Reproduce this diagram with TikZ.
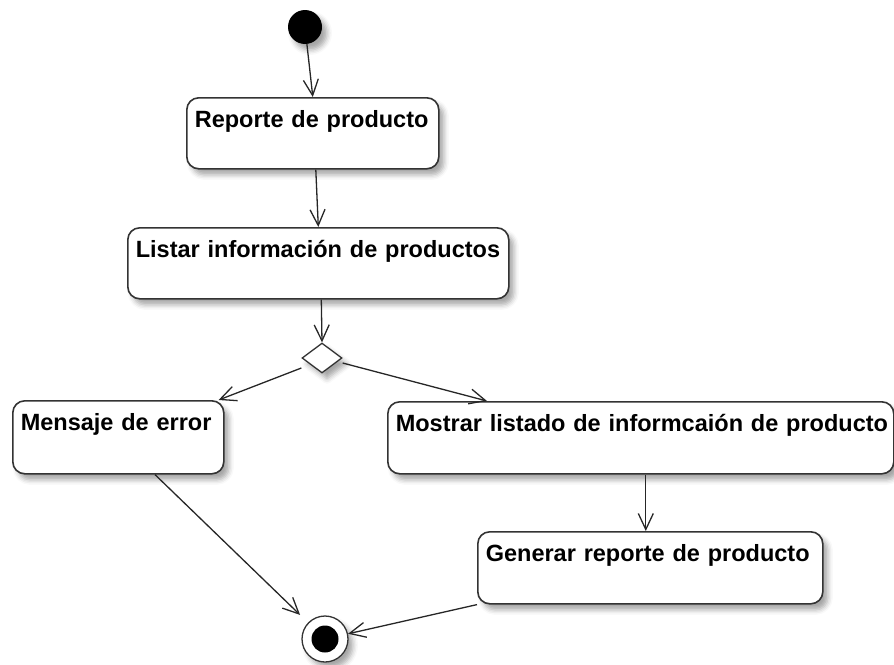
\documentclass[tikz,border=0pt]{standalone}
\usepackage{fontspec}
\setmainfont{Liberation Sans}
\usepackage{tikz}
\usetikzlibrary{arrows.meta, positioning, calc, shapes.geometric, shadows.blur}
\tikzset{every node/.style={font=\bfseries\fontsize{23.5}{28}\selectfont}}
\colorlet{boxline}{black!80}
\colorlet{flowcol}{black!85}
\colorlet{dotcol}{black}
\tikzset{
  softshadow/.style={blur shadow={shadow xshift=5pt, shadow yshift=-6pt, shadow blur radius=5pt, shadow opacity=35}},
  activity/.style args={#1/#2}{draw=boxline, line width=1.6pt, rounded corners=12pt, fill=white,
    anchor=north west, align=left, inner xsep=8pt, inner ysep=0pt,
    text width=#1, text height=30pt, text depth=#2, softshadow},
  flow/.style={draw=flowcol, line width=1.3pt, -{Straight Barb[length=16pt, width=15pt]}},
}

\begin{document}
\begin{tikzpicture}[x=1pt, y=-1pt]
\useasboundingbox (0,0) rectangle (894,664);

% Start
\node[circle, fill=dotcol, minimum size=34pt, inner sep=0pt, softshadow] (start) at (305,27) {};

% Activities
\node[activity=236pt/41pt] (rep) at (186,97) {\mbox{Reporte de producto}};
\node[activity=365pt/41pt] (list) at (127,227) {\mbox{Listar información de productos}};
\node[activity=195pt/43pt] (err) at (12,400) {\mbox{Mensaje de error}};
\node[activity=490pt/42pt] (show) at (387,401) {\mbox{Mostrar listado de informcaión de producto}};
\node[activity=329pt/42pt] (gen) at (477,531) {\mbox{Generar reporte de producto}};

% Decision
\node[diamond, draw=boxline, line width=1.3pt, fill=white, minimum width=40pt, minimum height=30pt, inner sep=0pt, softshadow] (dec) at (322,358) {};

% End
\node[circle, draw=boxline, line width=1.3pt, fill=white, minimum size=46pt, inner sep=0pt, softshadow] (end) at (325,639) {};
\node[circle, fill=dotcol, minimum size=27pt, inner sep=0pt] (endin) at (end) {};

% Flows
\draw[flow] (start) -- (rep.north);
\draw[flow] ([xshift=3pt]rep.south) -- (list.north);
\draw[flow] ([xshift=3pt]list.south) -- (dec.north);
\draw[flow] ([yshift=-10pt]dec.west) -- ([xshift=-6pt]err.north east);
\draw[flow] ([yshift=-5pt]dec.east) -- ([xshift=100pt]show.north west);
\draw[flow] ([xshift=5pt]show.south) -- ([xshift=-4.5pt]gen.north);
\draw[flow, shorten >=11pt] ([xshift=143pt]err.south west) -- (end);
\draw[flow] (gen.south west) -- (end);

\end{tikzpicture}
\end{document}
